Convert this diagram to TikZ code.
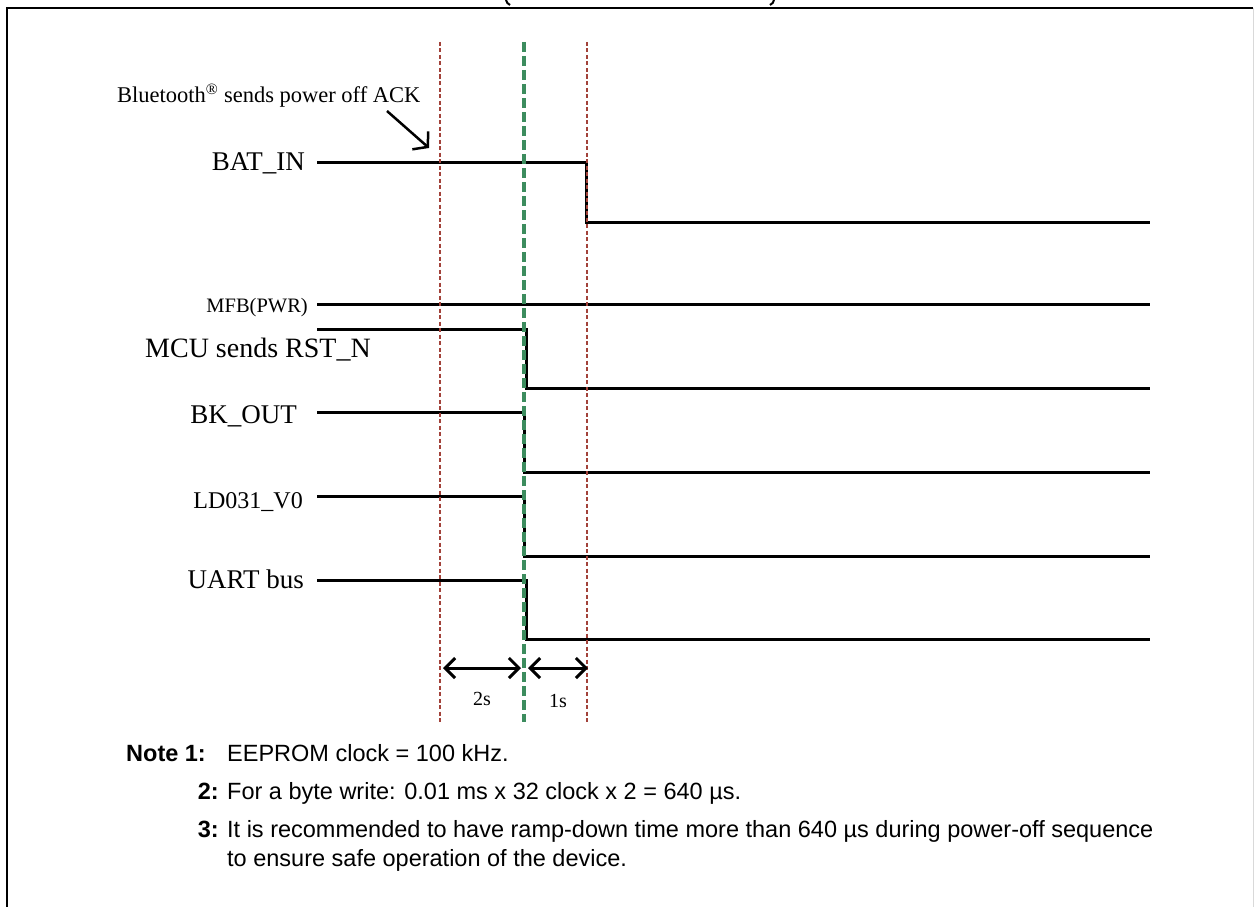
\documentclass[tikz,border=0pt]{standalone}
\usepackage{fontspec}
\setmainfont{Liberation Serif}
\setsansfont{Liberation Sans}
\usetikzlibrary{arrows.meta,positioning}

\definecolor{cutred}{HTML}{A2423A}
\definecolor{cutgreen}{HTML}{3C8C5E}

\begin{document}
\begin{tikzpicture}[x=1pt, y=-1pt,
  frm/.style={line width=2.5pt},
  redcut/.style={cutred, line width=1.3pt, dash pattern=on 4pt off 2.5pt},
  grncut/.style={cutgreen, line width=3.5pt, dash pattern=on 10pt off 4pt},
  sig/.style={line width=3pt},
  lbl/.style={inner sep=0pt, font=\fontsize{27}{30}\selectfont},
  sml/.style={inner sep=0pt, font=\fontsize{20.5}{24}\selectfont},
  tm/.style={inner sep=0pt, font=\fontsize{20}{24}\selectfont},
  dim/.style={line width=3pt, {Straight Barb[length=10pt,width=20pt]}-{Straight Barb[length=10pt,width=20pt]}},
  ackarr/.style={line width=2.5pt, -{Straight Barb[length=10pt,width=24pt]}},
  nt/.style={inner sep=0pt, font=\sffamily\fontsize{23.5}{28}\selectfont},
  ntb/.style={inner sep=0pt, font=\sffamily\bfseries\fontsize{23.5}{28}\selectfont}]
\useasboundingbox (0,0) rectangle (1255,907);

% frame and cut-off title
\draw[frm] (7,907) -- (7,8) -- (1253,8);
\draw[gray!30, line width=1pt] (1253,8) -- (1253,907);
\draw[line width=2pt] (506,0) .. controls (507,3) .. (510,5);
\draw[line width=2pt] (774,0) .. controls (773,3) .. (770,5);

% waveforms
\draw[sig] (317,162) -- (586,162) -- (586,222) -- (1150,222);
\draw[sig] (317,304) -- (1150,304);
\draw[sig] (317,329) -| (526,388) -- (1150,388);
\draw[sig] (317,412) -| (524,472) -- (1150,472);
\draw[sig] (317,496) -| (524,556) -- (1150,556);
\draw[sig] (317,580) -| (526,639) -- (1150,639);

% time markers
\draw[redcut] (440,42) -- (440,722);
\draw[grncut] (524,42) -- (524,722);
\draw[redcut] (587,42) -- (587,722);

% signal names
\node[lbl, anchor=base east] (bat) at (305,170) {BAT\_IN};
\node[sml, anchor=base east] (mfb) at (308,312) {MFB(PWR)};
\node[lbl, anchor=base west, font=\fontsize{28}{30}\selectfont] (rst) at (145,357) {MCU sends RST\_N};
\node[lbl, anchor=base east] (bk) at (297,423) {BK\_OUT};
\node[lbl, anchor=base east, font=\fontsize{24}{28}\selectfont] (ldo) at (303,508) {LD031\_V0};
\node[lbl, anchor=base east] (uart) at (304,588) {UART bus};

\node[sml, anchor=base west, font=\fontsize{22.5}{26}\selectfont] (ack) at (117,102) {Bluetooth\textsuperscript{®} sends power off ACK};
\coordinate (ackA) at (387,111);
\coordinate (ackB) at (429,148);
\draw[ackarr] (ackA) -- (ackB);

% intervals
\coordinate (d1) at (443,668);
\coordinate (d2) at (521,668);
\coordinate (d3) at (528,668);
\coordinate (d4) at (588,668);
\draw[dim] (d1) -- node[tm, below=23pt] (t2s) {2s} (d2);
\draw[dim] (d3) -- node[tm, below=25pt] (t1s) {1s} (d4);

% notes
\node[ntb, anchor=base west] (n1) at (126,761) {Note 1:};
\node[nt, anchor=base west] (l1) at (227,761) {EEPROM clock = 100 kHz.};
\node[ntb, anchor=base east] (n2) at (219,799) {2:};
\node[nt, anchor=base west] (l2) at (227,799) {For a byte write: 0.01 ms x 32 clock x 2 = 640 µs.};
\node[ntb, anchor=base east] (n3) at (219,837) {3:};
\node[nt, anchor=base west] (l3) at (227,837) {It is recommended to have ramp-down time more than 640 µs during power-off sequence};
\node[nt, anchor=base west] (l4) at (227,866) {to ensure safe operation of the device.};
\end{tikzpicture}
\end{document}
